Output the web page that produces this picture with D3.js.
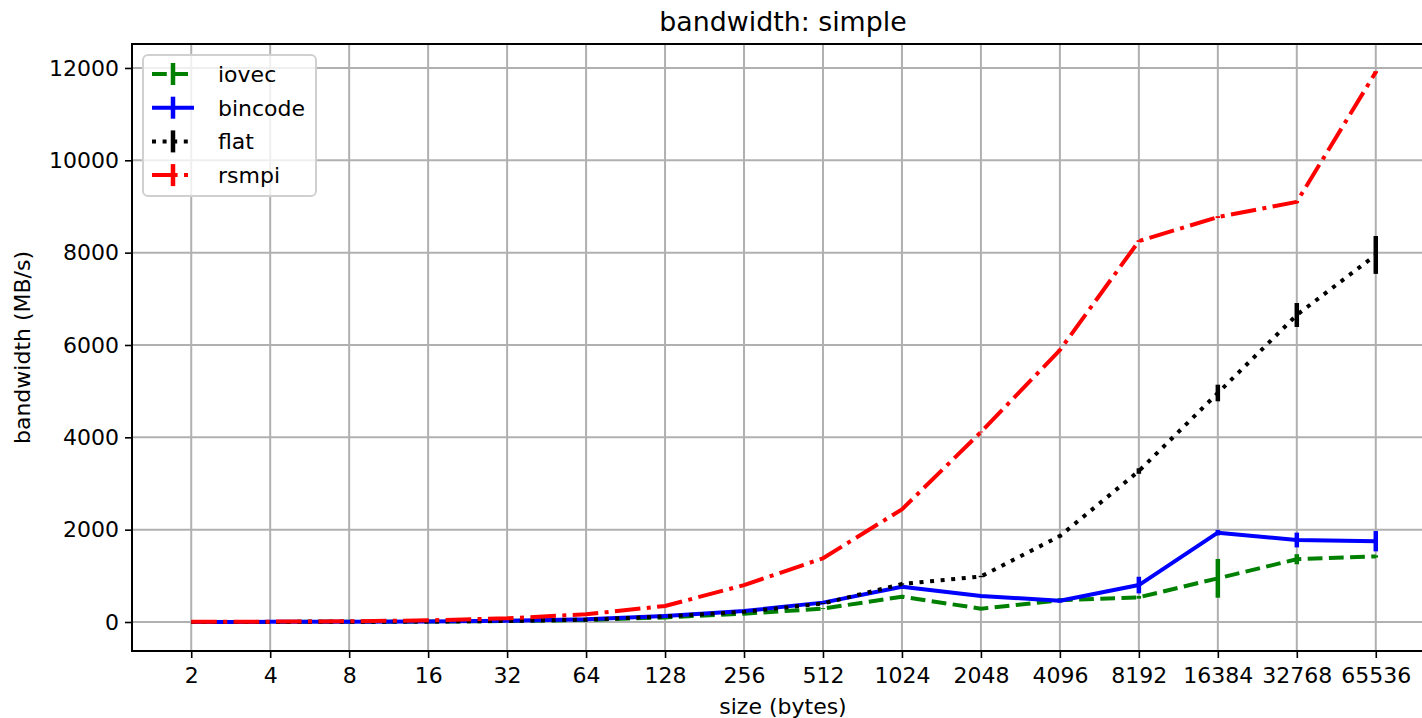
<!DOCTYPE html>
<html><head><meta charset="utf-8">
<script src="https://cdn.jsdelivr.net/npm/d3@7"></script>
<style>body{margin:0;background:#fff}svg{display:block}text{font-family:"DejaVu Sans",sans-serif;fill:#000}</style>
</head><body><svg id="c" width="1422" height="718"></svg>
<script>
const sizes = [2,4,8,16,32,64,128,256,512,1024,2048,4096,8192,16384,32768,65536];
const tickLabels = ["2","4","8","16","32","64","128","256","512","1024","2048","4096","8192","16384","32768","65536"];
const yTicks = [0,2000,4000,6000,8000,10000,12000];
const iovec    = [1,2,4,9,20,45,100,180,290,548,289,470,535,946,1360,1420];
const iovecErr = [0,0,0,0,0,0,0,0,10,20,15,40,30,420,110,25];
const bincode    = [2,3,6,12,25,58,130,238,420,765,563,462,800,1935,1776,1750];
const bincodeErr = [0,0,0,0,0,0,0,5,10,15,15,40,180,60,160,220];
const flat    = [1,2,5,11,22,50,120,220,400,823,985,1862,3270,4960,6650,7950];
const flatErr = [0,0,0,0,0,0,0,5,10,15,15,30,60,180,260,410];
const rsmpi    = [4,8,15,36,80,166,347,800,1380,2440,4115,5890,8250,8770,9100,11910];
const rsmpiErr = [0,0,0,0,0,0,0,0,0,10,10,15,20,20,20,20];

const series = [
  {name:"iovec", v:iovec, e:iovecErr, color:"#008000", dash:"14.8,6.4"},
  {name:"bincode", v:bincode, e:bincodeErr, color:"#0000ff", dash:null},
  {name:"flat", v:flat, e:flatErr, color:"#000000", dash:"4,6.6"},
  {name:"rsmpi", v:rsmpi, e:rsmpiErr, color:"#ff0000", dash:"25.6,6.4,4,6.4"}
];

const svg = d3.select("#c");
const L=132, T=44, B=651, R=1435;
const x = d3.scaleLog().base(2).domain([2/Math.pow(2,0.75), 65536*Math.pow(2,0.75)]).range([L,R]);
const y = d3.scaleLinear().domain([-628,12519]).range([B,T]);

svg.append("defs").append("clipPath").attr("id","pc").append("rect")
  .attr("x",L).attr("y",T).attr("width",R-L).attr("height",B-T);

// grid
const g = svg.append("g");
g.selectAll(".gx").data(sizes).join("line").attr("x1",d=>x(d)).attr("x2",d=>x(d)).attr("y1",T).attr("y2",B)
  .attr("stroke","#b0b0b0").attr("stroke-width",2);
g.selectAll(".gy").data(yTicks).join("line").attr("x1",L).attr("x2",R).attr("y1",d=>y(d)).attr("y2",d=>y(d))
  .attr("stroke","#b0b0b0").attr("stroke-width",2);

// data
const plot = svg.append("g").attr("clip-path","url(#pc)");
series.forEach(s=>{
  const line = d3.line().x((d,i)=>x(sizes[i])).y(d=>y(d));
  const p = plot.append("path").datum(s.v).attr("d",line).attr("fill","none")
    .attr("stroke",s.color).attr("stroke-width",4).attr("stroke-linejoin","round");
  if(s.dash) p.attr("stroke-dasharray",s.dash);
  plot.selectAll(null).data(s.v).join("line")
    .attr("x1",(d,i)=>x(sizes[i])).attr("x2",(d,i)=>x(sizes[i]))
    .attr("y1",(d,i)=>y(d - s.e[i])).attr("y2",(d,i)=>y(d + s.e[i]))
    .attr("stroke",s.color).attr("stroke-width",4.5);
});

// axes
const xa = svg.append("g").attr("transform",`translate(0,${B})`)
  .call(d3.axisBottom(x).tickValues(sizes).tickFormat((d,i)=>tickLabels[i]).tickSize(7).tickPadding(6));
const ya = svg.append("g").attr("transform",`translate(${L},0)`)
  .call(d3.axisLeft(y).tickValues(yTicks).tickFormat(d=>String(d)).tickSize(7).tickPadding(6));
[xa,ya].forEach(a=>{
  a.select(".domain").remove();
  a.selectAll(".tick line").attr("stroke","#000").attr("stroke-width",1.6);
  a.selectAll(".tick text").attr("font-size",22).attr("font-family","DejaVu Sans");
});
xa.selectAll(".tick text").attr("dy","0.85em");

// frame
svg.append("rect").attr("x",L).attr("y",T).attr("width",R-L).attr("height",B-T)
  .attr("fill","none").attr("stroke","#000").attr("stroke-width",2);

// labels
svg.append("text").attr("x",783).attr("y",31).attr("text-anchor","middle").attr("font-size",26.8).text("bandwidth: simple");
svg.append("text").attr("x",783).attr("y",714).attr("text-anchor","middle").attr("font-size",22).text("size (bytes)");
svg.append("text").attr("transform",`translate(30,${(T+B)/2}) rotate(-90)`).attr("text-anchor","middle").attr("font-size",22).text("bandwidth (MB/s)");

// legend
const lg = svg.append("g");
lg.append("rect").attr("x",143).attr("y",55).attr("width",173).attr("height",141).attr("rx",5)
  .attr("fill","#fff").attr("fill-opacity",0.8).attr("stroke","#d0d0d0").attr("stroke-width",2);
series.forEach((s,i)=>{
  const cy = 74 + i*33.7;
  const l = lg.append("line").attr("x1",152).attr("x2",194).attr("y1",cy).attr("y2",cy)
    .attr("stroke",s.color).attr("stroke-width",4);
  if(s.dash) l.attr("stroke-dasharray",s.dash);
  lg.append("line").attr("x1",173).attr("x2",173).attr("y1",cy-11).attr("y2",cy+11)
    .attr("stroke",s.color).attr("stroke-width",4.5);
  lg.append("text").attr("x",218).attr("y",cy+8).attr("font-size",22).text(s.name);
});
</script></body></html>
